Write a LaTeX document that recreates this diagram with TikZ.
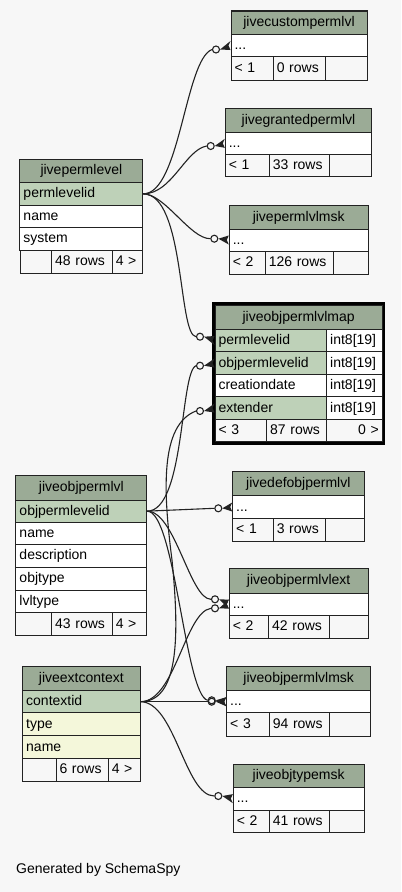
\documentclass[tikz,border=0pt]{standalone}
\usepackage{fontspec}
\setmainfont{Liberation Sans}
\usetikzlibrary{calc}
\definecolor{bgc}{HTML}{F7F7F7}
\definecolor{hdrc}{HTML}{9BAB96}
\definecolor{keyc}{HTML}{BED1B8}
\definecolor{idxc}{HTML}{F4F7DA}
\definecolor{linec}{HTML}{222222}
\newcommand\tcell[8]{%
  \pgfmathsetmacro\cw{#4-#2}\pgfmathsetmacro\ch{#5-#3}\pgfmathsetmacro\tw{#4-#2-7}%
  \node[cellbox, fill=#6, minimum width=\cw bp, minimum height=\ch bp, text width=\tw bp, align=#7] (#1) at ({(#2+#4)/2},{(#3+#5)/2}) {#8};}
\newcommand\crowto[2]{\fill[linec] (#1.east) -- ([yshift=4.5bp]#2.west) -- ([xshift=-2bp]#2.west) -- ([yshift=-4.5bp]#2.west) -- cycle;}
\begin{document}
\begin{tikzpicture}[x=1bp,y=-1bp,
  cellbox/.style={draw=linec, line width=1bp, inner xsep=3.5bp, inner ysep=0pt, text height=10.5bp, text depth=2.5bp, font=\fontsize{14bp}{16bp}\selectfont},
  edge/.style={draw=linec, line width=1.1bp},
  odot/.style={circle, draw=linec, line width=1.1bp, inner sep=0pt, minimum size=7bp}]
\fill[bgc] (0,0) rectangle (401,892);
\useasboundingbox (0,0) rectangle (401,892);
% jivecustompermlvl
\tcell{t1h}{231}{11}{367}{34.3}{hdrc}{center}{jivecustompermlvl}
\tcell{t1r1}{231}{34.3}{367}{56.7}{white}{left}{...}
\tcell{t1fa}{231}{56.7}{273.3}{80}{bgc}{left}{< 1}
\tcell{t1fb}{273.3}{56.7}{325}{80}{bgc}{left}{0 rows}
\tcell{t1fc}{325}{56.7}{367}{80}{bgc}{right}{}
% jivegrantedpermlvl
\tcell{t2h}{225.3}{108}{371.7}{132.3}{hdrc}{center}{jivegrantedpermlvl}
\tcell{t2r1}{225.3}{132.3}{371.7}{154.3}{white}{left}{...}
\tcell{t2fa}{225.3}{154.3}{269.3}{176.7}{bgc}{left}{< 1}
\tcell{t2fb}{269.3}{154.3}{329.3}{176.7}{bgc}{left}{33 rows}
\tcell{t2fc}{329.3}{154.3}{371.7}{176.7}{bgc}{right}{}
% jivepermlevel
\tcell{t3h}{20}{159}{142.7}{182.7}{hdrc}{center}{jivepermlevel}
\tcell{t3r1}{20}{182.7}{142.7}{205}{keyc}{left}{permlevelid}
\tcell{t3r2}{20}{205}{142.7}{227.7}{white}{left}{name}
\tcell{t3r3}{20}{227.7}{142.7}{250}{white}{left}{system}
\tcell{t3fa}{20}{250}{51.7}{273.3}{bgc}{left}{}
\tcell{t3fb}{51.7}{250}{112.3}{273.3}{bgc}{left}{48 rows}
\tcell{t3fc}{112.3}{250}{142.7}{273.3}{bgc}{left}{4 >}
% jivepermlvlmsk
\tcell{t4h}{229.3}{205}{368}{229}{hdrc}{center}{jivepermlvlmsk}
\tcell{t4r1}{229.3}{229}{368}{251}{white}{left}{...}
\tcell{t4fa}{229.3}{251}{265.3}{274.3}{bgc}{left}{< 2}
\tcell{t4fb}{265.3}{251}{333.3}{274.3}{bgc}{left}{126 rows}
\tcell{t4fc}{333.3}{251}{368}{274.3}{bgc}{right}{}
% jiveobjpermlvlmap
\draw[draw=black, line width=3bp, fill=bgc] (213.2,303.2) rectangle (383.6,443.5);
\tcell{t5h}{215}{305}{382.3}{329.3}{hdrc}{center}{jiveobjpermlvlmap}
\tcell{t5r1}{215}{329.3}{326.7}{351.7}{keyc}{left}{permlevelid}
\tcell{t5r1t}{326.7}{329.3}{382.3}{351.7}{white}{left}{int8[19]}
\tcell{t5r2}{215}{351.7}{326.7}{374.3}{keyc}{left}{objpermlevelid}
\tcell{t5r2t}{326.7}{351.7}{382.3}{374.3}{white}{left}{int8[19]}
\tcell{t5r3}{215}{374.3}{326.7}{396.7}{white}{left}{creationdate}
\tcell{t5r3t}{326.7}{374.3}{382.3}{396.7}{white}{left}{int8[19]}
\tcell{t5r4}{215}{396.7}{326.7}{419.3}{keyc}{left}{extender}
\tcell{t5r4t}{326.7}{396.7}{382.3}{419.3}{white}{left}{int8[19]}
\tcell{t5fa}{215}{419.3}{266.7}{441.7}{bgc}{left}{< 3}
\tcell{t5fb}{266.7}{419.3}{326.7}{441.7}{bgc}{left}{87 rows}
\tcell{t5fc}{326.7}{419.3}{382.3}{441.7}{bgc}{right}{0 >}
% jiveobjpermlvl
\tcell{t6h}{16}{475}{146.7}{500}{hdrc}{center}{jiveobjpermlvl}
\tcell{t6r1}{16}{500}{146.7}{522.3}{keyc}{left}{objpermlevelid}
\tcell{t6r2}{16}{522.3}{146.7}{544.3}{white}{left}{name}
\tcell{t6r3}{16}{544.3}{146.7}{567.3}{white}{left}{description}
\tcell{t6r4}{16}{567.3}{146.7}{590}{white}{left}{objtype}
\tcell{t6r5}{16}{590}{146.7}{612.3}{white}{left}{lvltype}
\tcell{t6fa}{16}{612.3}{51.7}{635.7}{bgc}{left}{}
\tcell{t6fb}{51.7}{612.3}{112.3}{635.7}{bgc}{left}{43 rows}
\tcell{t6fc}{112.3}{612.3}{146.7}{635.7}{bgc}{left}{4 >}
% jivedefobjpermlvl
\tcell{t7h}{232.7}{471.7}{364}{495.7}{hdrc}{center}{jivedefobjpermlvl}
\tcell{t7r1}{232.7}{495.7}{364}{518.3}{white}{left}{...}
\tcell{t7fa}{232.7}{518.3}{273.3}{541}{bgc}{left}{< 1}
\tcell{t7fb}{273.3}{518.3}{325}{541}{bgc}{left}{3 rows}
\tcell{t7fc}{325}{518.3}{364}{541}{bgc}{right}{}
% jiveobjpermlvlext
\tcell{t8h}{229.3}{568.3}{368}{593.3}{hdrc}{center}{jiveobjpermlvlext}
\tcell{t8r1}{229.3}{593.3}{368}{615}{white}{left}{...}
\tcell{t8fa}{229.3}{615}{268.7}{638.3}{bgc}{left}{< 2}
\tcell{t8fb}{268.7}{615}{329.3}{638.3}{bgc}{left}{42 rows}
\tcell{t8fc}{329.3}{615}{368}{638.3}{bgc}{right}{}
% jiveextcontext
\tcell{t9h}{22.7}{666.7}{140}{690.7}{hdrc}{center}{jiveextcontext}
\tcell{t9r1}{22.7}{690.7}{140}{712.7}{keyc}{left}{contextid}
\tcell{t9r2}{22.7}{712.7}{140}{735.7}{idxc}{left}{type}
\tcell{t9r3}{22.7}{735.7}{140}{758.3}{idxc}{left}{name}
\tcell{t9fa}{22.7}{758.3}{56}{781}{bgc}{left}{}
\tcell{t9fb}{56}{758.3}{108.3}{781}{bgc}{left}{6 rows}
\tcell{t9fc}{108.3}{758.3}{140}{781}{bgc}{left}{4 >}
% jiveobjpermlvlmsk
\tcell{t10h}{226.7}{666.7}{370.7}{690.7}{hdrc}{center}{jiveobjpermlvlmsk}
\tcell{t10r1}{226.7}{690.7}{370.7}{712.7}{white}{left}{...}
\tcell{t10fa}{226.7}{712.7}{269.3}{736}{bgc}{left}{< 3}
\tcell{t10fb}{269.3}{712.7}{329.3}{736}{bgc}{left}{94 rows}
\tcell{t10fc}{329.3}{712.7}{370.7}{736}{bgc}{right}{}
% jiveobjtypemsk
\tcell{t11h}{233.3}{764}{364}{787.3}{hdrc}{center}{jiveobjtypemsk}
\tcell{t11r1}{233.3}{787.3}{364}{810}{white}{left}{...}
\tcell{t11fa}{233.3}{810}{269.3}{832.5}{bgc}{left}{< 2}
\tcell{t11fb}{269.3}{810}{329.3}{832.5}{bgc}{left}{41 rows}
\tcell{t11fc}{329.3}{810}{364}{832.5}{bgc}{right}{}
% footer text
\node[anchor=west, inner sep=0pt, font=\fontsize{14bp}{16bp}\selectfont] (gen) at (16,870) {Generated by SchemaSpy};
% circles
\node[odot] (o1) at (216,49.5) {};
\node[odot] (o2) at (210.7,146) {};
\node[odot] (o3) at (214.3,238.7) {};
\node[odot] (o4) at (200,336.7) {};
\node[odot] (o5) at (200,365.7) {};
\node[odot] (o6) at (200,411) {};
\node[odot] (o7) at (218.3,508.3) {};
\node[odot] (o8) at (215,599.3) {};
\node[odot] (o9) at (215,608.3) {};
\node[odot] (o10) at (211.7,700.3) {};
\node[odot] (o11) at (211.7,701.7) {};
\node[odot] (o12) at (218.3,796) {};
% edges
\draw[edge] (t3r1.east) .. controls (180,193.9) and (185,60) .. (o1.west);
\draw[edge] (t3r1.east) .. controls (172,193.9) and (185,150) .. (o2.west);
\draw[edge] (t3r1.east) .. controls (165,193.9) and (190,238.7) .. (o3.west);
\draw[edge] (t3r1.east) .. controls (185,193.9) and (178,335) .. (o4.west);
\draw[edge] (t6r1.east) .. controls (185,511) and (180,372) .. (o5.west);
\draw[edge] (t9r1.east) .. controls (178,701.7) and (180,640) .. (172,560) .. controls (163,490) and (160,425) .. (o6.west);
\draw[edge] (t6r1.east) -- (o7.west);
\draw[edge] (t6r1.east) .. controls (175,511) and (190,599.3) .. (o8.west);
\draw[edge] (t9r1.east) .. controls (175,701.7) and (185,612) .. (o9.west);
\draw[edge] (t6r1.east) .. controls (175,511) and (185,695) .. (o10.west);
\draw[edge] (t9r1.east) -- (o11.west);
\draw[edge] (t9r1.east) .. controls (175,701.7) and (185,796) .. (o12.west);
% crow feet
\crowto{o1}{t1r1}
\crowto{o2}{t2r1}
\crowto{o3}{t4r1}
\crowto{o4}{t5r1}
\crowto{o5}{t5r2}
\crowto{o6}{t5r4}
\crowto{o7}{t7r1}
\crowto{o8}{t8r1}
\crowto{o9}{t8r1}
\crowto{o10}{t10r1}
\crowto{o11}{t10r1}
\crowto{o12}{t11r1}
\end{tikzpicture}
\end{document}
